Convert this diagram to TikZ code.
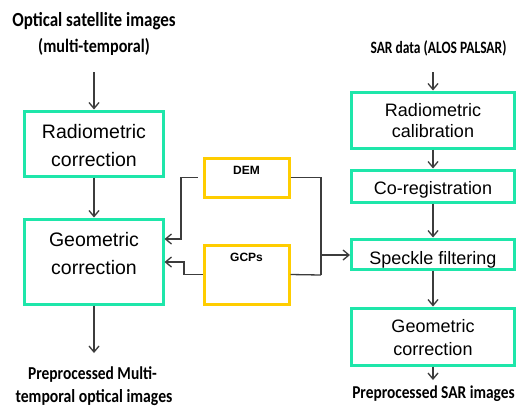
\documentclass[tikz,border=0pt]{standalone}
\usepackage{fontspec}
\setmainfont{Liberation Sans}
\newfontfamily\hfont[FakeStretch=0.85]{Carlito}
\newfontfamily\hfontn[FakeStretch=0.78]{Carlito}
\usetikzlibrary{arrows.meta}
\definecolor{boxteal}{RGB}{30,230,170}
\definecolor{boxyel}{RGB}{255,205,0}
\definecolor{conn}{RGB}{60,60,60}
\begin{document}
\begin{tikzpicture}[x=1bp,y=-1bp,
  gbox/.style={draw=boxteal,line width=3bp,rectangle,inner sep=0pt},
  ybox/.style={draw=boxyel,line width=3bp,rectangle,inner sep=0pt},
  ln/.style={draw=conn,line width=1.3bp},
  arr/.style={ln,-{Straight Barb[length=6bp,width=10bp]}},
  ltxt/.style={anchor=base,inner sep=0pt,font=\fontsize{19.5bp}{23bp}\selectfont},
  rtxt/.style={anchor=base,inner sep=0pt,font=\fontsize{18bp}{22bp}\selectfont},
  stxt/.style={anchor=base,inner sep=0pt,font=\fontsize{12bp}{14bp}\selectfont\bfseries},
  htxt/.style={anchor=base,inner sep=0pt},
]
\fill[white] (0,0) rectangle (517,406);
\useasboundingbox (0,0) rectangle (517,406);

% headings
\node[htxt,font=\hfont\bfseries\fontsize{20bp}{24bp}\selectfont] (h1) at (94,26) {Optical satellite images};
\node[htxt,font=\hfont\bfseries\fontsize{19bp}{23bp}\selectfont] (h2) at (94,52) {(multi-temporal)};
\node[htxt,font=\hfontn\bfseries\fontsize{17.3bp}{20bp}\selectfont] (h3) at (438.5,53) {SAR data (ALOS PALSAR)};
\node[htxt,font=\hfont\bfseries\fontsize{18.2bp}{22bp}\selectfont] (o1) at (92.5,379) {Preprocessed Multi-};
\node[htxt,font=\hfont\bfseries\fontsize{18.5bp}{22bp}\selectfont] (o2) at (94,402.5) {temporal optical images};
\node[htxt,font=\hfont\bfseries\fontsize{18.1bp}{22bp}\selectfont] (o3) at (433.5,398) {Preprocessed SAR images};

% left column boxes
\node[gbox,minimum width=138bp,minimum height=65bp] (radL) at (94,143.5) {};
\node[gbox,minimum width=138bp,minimum height=85bp] (geoL) at (94,261.5) {};
\node[ltxt] (radLa) at (94,138) {Radiometric};
\node[ltxt] (radLb) at (94,166) {correction};
\node[ltxt] (geoLa) at (94,246.5) {Geometric};
\node[ltxt] (geoLb) at (94,274) {correction};

% middle boxes
\node[ybox,minimum width=85bp,minimum height=39bp] (dem) at (246.5,177.5) {};
\node[ybox,minimum width=85bp,minimum height=59bp] (gcp) at (246.5,274.5) {};
\node[stxt] (demt) at (246.5,174) {DEM};
\node[stxt] (gcpt) at (246.5,261) {GCPs};

% right column boxes
\node[gbox,minimum width=163bp,minimum height=56bp] (radR) at (433,120) {};
\node[gbox,minimum width=163bp,minimum height=32bp] (coreg) at (433,186) {};
\node[gbox,minimum width=163bp,minimum height=30bp] (spk) at (433,254) {};
\node[gbox,minimum width=163bp,minimum height=57bp] (geoR) at (433,336.5) {};
\node[rtxt] (radRa) at (433,116) {Radiometric};
\node[rtxt] (radRb) at (433,137) {calibration};
\node[rtxt] (coregt) at (433,194) {Co-registration};
\node[rtxt] (spkt) at (433,264) {Speckle filtering};
\node[rtxt] (geoRa) at (433,332) {Geometric};
\node[rtxt] (geoRb) at (433,355) {correction};

% free ends
\coordinate (inL) at (94,72);
\coordinate (outL) at (94,353);
\coordinate (inR) at (433,72);
\coordinate (outR) at (433,380);
\coordinate (j1) at (181,239);
\coordinate (j2) at (184,262);
\coordinate (j3) at (321,255);
\coordinate (j4) at (321,275);

% connectors
\draw[arr] (inL) -- (radL.north);
\draw[arr] (radL) -- (geoL);
\draw[arr] (geoL.south) -- (outL);
\draw[arr] (inR) -- (radR.north);
\draw[arr] (radR) -- (coreg);
\draw[arr] (coreg) -- (spk);
\draw[arr] (spk) -- (geoR);
\draw[arr] (geoR.south) -- (outR);
\draw[arr] ([xshift=-5bp]dem.west) -| (j1) -- (j1 -| geoL.east);
\draw[arr] (gcp.west) -| (j2) -- (j2 -| geoL.east);
\draw[ln] (dem.east) -| (j4);
\draw[ln] (gcp.east) -- (j4);
\draw[arr] (j3) -- (j3 -| spk.west);
\end{tikzpicture}
\end{document}
